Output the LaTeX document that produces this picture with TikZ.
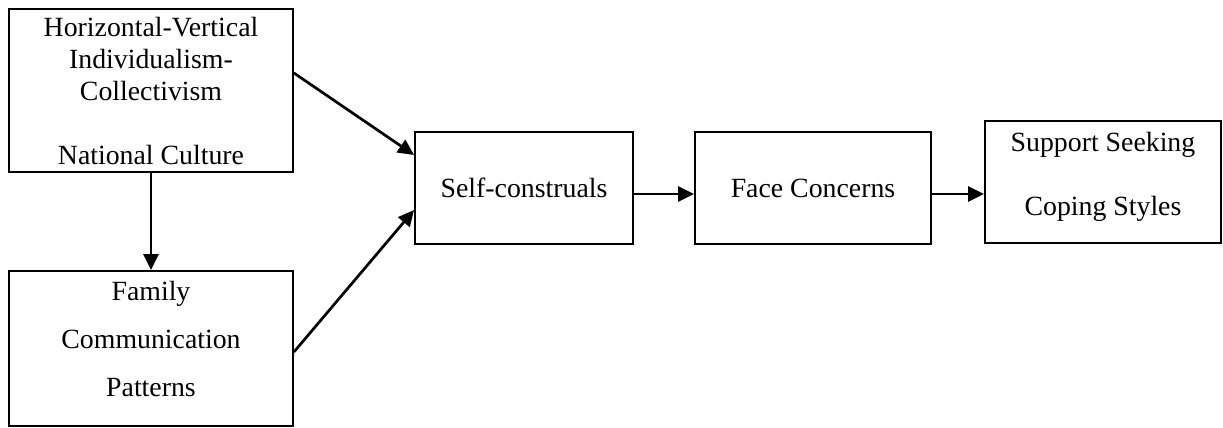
\documentclass[tikz,border=0pt]{standalone}
\usepackage{fontspec}
\setmainfont{Liberation Serif}
\usetikzlibrary{arrows.meta,calc,positioning}
\tikzset{
  font=\fontsize{13.9}{16}\selectfont,
  >={Triangle[length=8pt,width=7.5pt]},
  link/.style={draw=black, line width=1.35pt, ->},
  box/.style={draw=black, fill=white, line width=.9pt, align=center,
    inner sep=2pt},
  boxtext/.style={align=center, inner sep=0pt}
}
\begin{document}
\begin{tikzpicture}[x=.5pt,y=.5pt]
  \useasboundingbox (0,0) rectangle (1223,-428);

  % ------------------------------------------------------------------
  % antecedents
  \node[box, minimum width=142pt, minimum height=81.5pt] (culture) at (151,-90.5)
    {Horizontal-Vertical\\Individualism-\\Collectivism\\[16pt]National Culture};
  \node[box, minimum width=142pt, minimum height=77.5pt] (family) at (151,-348.5) {};
  \node[boxtext] (familytext) at ($(family.center)+(0,10)$)
    {Family\\[8pt]Communication\\[8pt]Patterns};

  % ------------------------------------------------------------------
  % mediators and outcome
  \node[box, minimum width=109pt, minimum height=56pt] (self) at (524,-188)
    {Self-construals};
  \node[box, minimum width=118pt, minimum height=56pt] (face) at (813,-188)
    {Face Concerns};
  \node[box, minimum width=118pt, minimum height=61pt] (coping) at (1103,-182) {};
  \node[boxtext] (copingtext) at ($(coping.center)+(0,5)$)
    {Support Seeking\\[16pt]Coping Styles};

  % ------------------------------------------------------------------
  % paths
  \coordinate (selfout) at ($(self.east)+(0,-6)$);
  \coordinate (faceout) at ($(face.east)+(0,-6)$);
  \draw[link] (culture.south) -- (family.north);
  \draw[link] ($(culture.east)+(0,17.5)$) -- ($(self.west)+(0,33)$);
  \draw[link] ($(family.east)+(0,-3.5)$) -- ($(self.west)+(0,-22)$);
  \draw[link] (selfout) -- (selfout -| face.west);
  \draw[link] (faceout) -- (faceout -| coping.west);
\end{tikzpicture}
\end{document}
